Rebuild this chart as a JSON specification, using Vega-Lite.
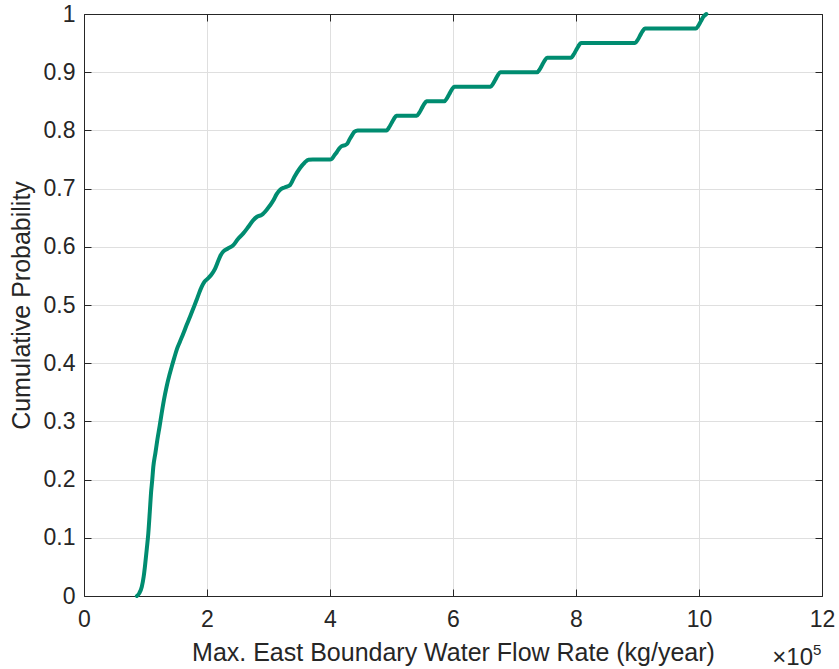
{
  "$schema": "https://vega.github.io/schema/vega-lite/v6.json",
  "width": 738,
  "height": 582,
  "autosize": "none",
  "padding": {"left": 84, "top": 14, "right": 17, "bottom": 73},
  "background": "white",
  "config": {
    "view": {"stroke": null},
    "font": "Liberation Sans",
    "axis": {
      "labelFont": "Liberation Sans",
      "titleFont": "Liberation Sans",
      "labelColor": "#262626",
      "titleColor": "#262626",
      "titleFontWeight": "normal",
      "domainColor": "#262626",
      "tickColor": "#262626",
      "gridColor": "#dfdfdf",
      "gridWidth": 1
    }
  },
  "datasets": {
    "ecdf": [
      {"flow_1e5": 0.86, "prob": 0.0},
      {"flow_1e5": 0.9, "prob": 0.005},
      {"flow_1e5": 0.94, "prob": 0.016},
      {"flow_1e5": 0.97, "prob": 0.033},
      {"flow_1e5": 0.99, "prob": 0.05},
      {"flow_1e5": 1.02, "prob": 0.08},
      {"flow_1e5": 1.046, "prob": 0.108},
      {"flow_1e5": 1.07, "prob": 0.145},
      {"flow_1e5": 1.089, "prob": 0.176},
      {"flow_1e5": 1.11, "prob": 0.2},
      {"flow_1e5": 1.127, "prob": 0.222},
      {"flow_1e5": 1.16, "prob": 0.245},
      {"flow_1e5": 1.192, "prob": 0.268},
      {"flow_1e5": 1.23, "prob": 0.292},
      {"flow_1e5": 1.263, "prob": 0.314},
      {"flow_1e5": 1.3, "prob": 0.337},
      {"flow_1e5": 1.344, "prob": 0.36},
      {"flow_1e5": 1.39, "prob": 0.38},
      {"flow_1e5": 1.426, "prob": 0.394},
      {"flow_1e5": 1.47, "prob": 0.41},
      {"flow_1e5": 1.507, "prob": 0.423},
      {"flow_1e5": 1.56, "prob": 0.437},
      {"flow_1e5": 1.615, "prob": 0.451},
      {"flow_1e5": 1.67, "prob": 0.466},
      {"flow_1e5": 1.724, "prob": 0.48},
      {"flow_1e5": 1.78, "prob": 0.495},
      {"flow_1e5": 1.832, "prob": 0.509},
      {"flow_1e5": 1.87, "prob": 0.52},
      {"flow_1e5": 1.913, "prob": 0.531},
      {"flow_1e5": 1.96, "prob": 0.54},
      {"flow_1e5": 2.02, "prob": 0.546},
      {"flow_1e5": 2.07, "prob": 0.552},
      {"flow_1e5": 2.13, "prob": 0.562},
      {"flow_1e5": 2.18, "prob": 0.575},
      {"flow_1e5": 2.22, "prob": 0.585},
      {"flow_1e5": 2.265, "prob": 0.592},
      {"flow_1e5": 2.34, "prob": 0.597},
      {"flow_1e5": 2.428, "prob": 0.603},
      {"flow_1e5": 2.5, "prob": 0.613},
      {"flow_1e5": 2.59, "prob": 0.623},
      {"flow_1e5": 2.67, "prob": 0.634},
      {"flow_1e5": 2.753, "prob": 0.646},
      {"flow_1e5": 2.82, "prob": 0.652},
      {"flow_1e5": 2.89, "prob": 0.655},
      {"flow_1e5": 2.98, "prob": 0.665},
      {"flow_1e5": 3.08, "prob": 0.68},
      {"flow_1e5": 3.13, "prob": 0.69},
      {"flow_1e5": 3.19, "prob": 0.698},
      {"flow_1e5": 3.26, "prob": 0.702},
      {"flow_1e5": 3.35, "prob": 0.706},
      {"flow_1e5": 3.42, "prob": 0.72},
      {"flow_1e5": 3.51, "prob": 0.735},
      {"flow_1e5": 3.59, "prob": 0.745},
      {"flow_1e5": 3.65, "prob": 0.7495},
      {"flow_1e5": 3.72, "prob": 0.75},
      {"flow_1e5": 4.0, "prob": 0.75},
      {"flow_1e5": 4.03, "prob": 0.751},
      {"flow_1e5": 4.07, "prob": 0.757},
      {"flow_1e5": 4.11, "prob": 0.7625},
      {"flow_1e5": 4.15, "prob": 0.769},
      {"flow_1e5": 4.19, "prob": 0.773},
      {"flow_1e5": 4.25, "prob": 0.775},
      {"flow_1e5": 4.28, "prob": 0.777},
      {"flow_1e5": 4.32, "prob": 0.785},
      {"flow_1e5": 4.36, "prob": 0.792},
      {"flow_1e5": 4.4, "prob": 0.798},
      {"flow_1e5": 4.45, "prob": 0.8},
      {"flow_1e5": 4.92, "prob": 0.8},
      {"flow_1e5": 4.96, "prob": 0.805},
      {"flow_1e5": 5.0, "prob": 0.8125},
      {"flow_1e5": 5.04, "prob": 0.82},
      {"flow_1e5": 5.08, "prob": 0.825},
      {"flow_1e5": 5.41, "prob": 0.825},
      {"flow_1e5": 5.45, "prob": 0.83},
      {"flow_1e5": 5.49, "prob": 0.8375},
      {"flow_1e5": 5.53, "prob": 0.845},
      {"flow_1e5": 5.57, "prob": 0.85},
      {"flow_1e5": 5.86, "prob": 0.85},
      {"flow_1e5": 5.9, "prob": 0.855},
      {"flow_1e5": 5.94, "prob": 0.8625},
      {"flow_1e5": 5.98, "prob": 0.87},
      {"flow_1e5": 6.02, "prob": 0.875},
      {"flow_1e5": 6.61, "prob": 0.875},
      {"flow_1e5": 6.65, "prob": 0.88},
      {"flow_1e5": 6.69, "prob": 0.8875},
      {"flow_1e5": 6.73, "prob": 0.895},
      {"flow_1e5": 6.77, "prob": 0.9},
      {"flow_1e5": 7.37, "prob": 0.9},
      {"flow_1e5": 7.41, "prob": 0.905},
      {"flow_1e5": 7.45, "prob": 0.9125},
      {"flow_1e5": 7.49, "prob": 0.92},
      {"flow_1e5": 7.53, "prob": 0.925},
      {"flow_1e5": 7.92, "prob": 0.925},
      {"flow_1e5": 7.96, "prob": 0.93},
      {"flow_1e5": 8.0, "prob": 0.9375},
      {"flow_1e5": 8.04, "prob": 0.945},
      {"flow_1e5": 8.08, "prob": 0.95},
      {"flow_1e5": 8.96, "prob": 0.95},
      {"flow_1e5": 9.0, "prob": 0.955},
      {"flow_1e5": 9.04, "prob": 0.9625},
      {"flow_1e5": 9.08, "prob": 0.97},
      {"flow_1e5": 9.12, "prob": 0.975},
      {"flow_1e5": 9.95, "prob": 0.975},
      {"flow_1e5": 9.99, "prob": 0.98},
      {"flow_1e5": 10.03, "prob": 0.9875},
      {"flow_1e5": 10.07, "prob": 0.995},
      {"flow_1e5": 10.12, "prob": 1.0}
    ],
    "exponent": [
      {"flow_1e5": 12, "prob": 0, "base": "×10", "power": "5"}
    ]
  },
  "resolve": {"axis": {"x": "independent", "y": "independent"}},
  "layer": [
    {
      "data": {"name": "ecdf"},
      "mark": {"type": "line", "color": "#008c70", "strokeWidth": 4, "interpolate": "monotone", "strokeCap": "round", "strokeJoin": "round"},
      "encoding": {
        "x": {
          "field": "flow_1e5",
          "type": "quantitative",
          "scale": {"domain": [0, 12], "nice": false, "zero": false},
          "axis": {
            "orient": "bottom",
            "title": "Max. East Boundary Water Flow Rate (kg/year)",
            "values": [0, 2, 4, 6, 8, 10, 12],
            "grid": true,
            "tickSize": -7,
            "labelFontSize": 23,
            "labelPadding": 19,
            "titleFontSize": 25,
            "titlePadding": 9,
            "labelFlush": false
          }
        },
        "y": {
          "field": "prob",
          "type": "quantitative",
          "scale": {"domain": [0, 1], "nice": false},
          "axis": {
            "orient": "left",
            "title": "Cumulative Probability",
            "values": [0, 0.1, 0.2, 0.3, 0.4, 0.5, 0.6, 0.7, 0.8, 0.9, 1],
            "labelExpr": "datum.value == 0 ? '0' : datum.value == 1 ? '1' : format(datum.value, '.1f')",
            "grid": true,
            "tickSize": -7,
            "labelFontSize": 23,
            "labelPadding": 16,
            "titleFontSize": 25,
            "titlePadding": 9,
            "labelFlush": false
          }
        }
      }
    },
    {
      "data": {"name": "ecdf"},
      "mark": {"type": "line", "opacity": 0},
      "encoding": {
        "x": {
          "field": "flow_1e5",
          "type": "quantitative",
          "axis": {"orient": "top", "title": null, "labels": false, "grid": false, "tickSize": -7, "values": [0, 2, 4, 6, 8, 10, 12]}
        },
        "y": {
          "field": "prob",
          "type": "quantitative",
          "axis": {"orient": "right", "title": null, "labels": false, "grid": false, "tickSize": -7, "values": [0, 0.1, 0.2, 0.3, 0.4, 0.5, 0.6, 0.7, 0.8, 0.9, 1]}
        }
      }
    },
    {
      "data": {"name": "exponent"},
      "mark": {"type": "text", "align": "right", "baseline": "alphabetic", "dx": -9, "dy": 69, "fontSize": 24, "color": "#262626", "font": "Liberation Sans"},
      "encoding": {
        "x": {"field": "flow_1e5", "type": "quantitative", "axis": null},
        "y": {"field": "prob", "type": "quantitative", "axis": null},
        "text": {"field": "base"}
      }
    },
    {
      "data": {"name": "exponent"},
      "mark": {"type": "text", "align": "left", "baseline": "alphabetic", "dx": -9, "dy": 59, "fontSize": 15, "color": "#262626", "font": "Liberation Sans"},
      "encoding": {
        "x": {"field": "flow_1e5", "type": "quantitative", "axis": null},
        "y": {"field": "prob", "type": "quantitative", "axis": null},
        "text": {"field": "power"}
      }
    }
  ]
}
